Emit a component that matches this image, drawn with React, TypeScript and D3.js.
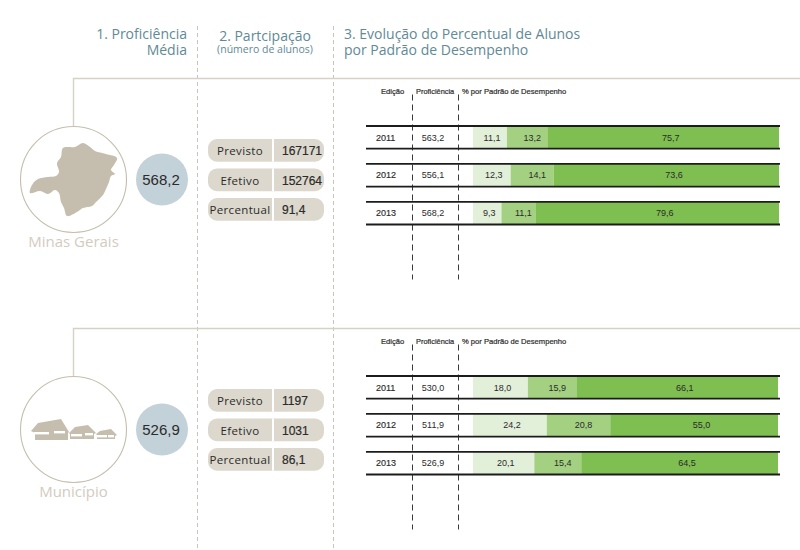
import * as d3 from 'd3';

const editions = ['2011', '2012', '2013'];
const levelColors = ['#e2efd9', '#a4d082', '#7fbe50'];

const stateProficiency = ['563,2', '556,1', '568,2'];
const stateLow = [11.1, 12.3, 9.3];
const stateMid = [13.2, 14.1, 11.1];
const stateHigh = [75.7, 73.6, 79.6];
const stateParticipation = ['167171', '152764', '91,4'];

const cityProficiency = ['530,0', '511,9', '526,9'];
const cityLow = [18.0, 24.2, 20.1];
const cityMid = [15.9, 20.8, 15.4];
const cityHigh = [66.1, 55.0, 64.5];
const cityParticipation = ['1197', '1031', '86,1'];

const participationLabels = ['Previsto', 'Efetivo', 'Percentual'];

// icon outlines
const mapOutline: [number, number][] = [
  [83, 143], [90, 147], [95, 151], [106, 154], [117, 158], [114, 165], [111, 170], [115, 174], [111, 176],
  [109, 182], [106, 189], [103, 195], [96, 202], [92, 206], [83, 208], [77, 212], [67, 216], [64, 208],
  [61, 202], [59, 193], [55, 190], [48, 194], [40, 191], [30, 193], [32, 185], [38, 179], [48, 177],
  [56, 176], [59, 172], [57, 163], [61, 157], [63, 148], [75, 147],
];
const houses: [number, number][][] = [
  [[31, 431], [38, 423], [61, 419], [69, 432], [68, 433], [68, 440], [35, 440], [35, 433]],
  [[69, 433], [75, 427], [88, 425], [96, 433], [94, 434], [94, 439], [70, 439], [70, 434]],
  [[96, 434], [100, 431], [111, 429], [117, 435], [115, 436], [115, 439], [97, 439], [97, 435]],
];
const houseWindows: [number, number, number][] = [
  [34, 432, 15], [54, 431, 11], [71, 434, 11], [85, 433, 8], [97, 435, 10], [108, 435, 6],
];

const TITLE = '#5f8a96';
const BEIGE = '#c5beae';
const NAME = '#d2ccbf';
const PILL = '#dcd8cd';
const BUBBLE = '#c3d1d8';
const INK = '#2b2b2b';
const SANS = "'Open Sans', sans-serif";
const ARIAL = "'Liberation Sans', Arial, sans-serif";

const outline = d3.line().curve(d3.curveCatmullRomClosed.alpha(0.5));
const polygon = d3.line().curve(d3.curveLinearClosed);

const labelShift = [2, 5, 7.5];

interface PanelProps {
  top: number;
  barEnd: number;
  name: string;
  bubble: string;
  proficiency: string[];
  low: number[];
  mid: number[];
  high: number[];
  participation: string[];
  icon: React.ReactNode;
}

const Panel = ({ top, barEnd, name, bubble, proficiency, low, mid, high, participation, icon }: PanelProps) => {
  const y = d3.scaleBand<string>().domain(editions).range([top + 47.5, top + 47.5 + 98.5]).paddingInner(15.3 / 38);
  const x = d3.scaleLinear().domain([0, 100]).range([473, barEnd]);
  const stack = d3.stack<number>().keys(['0', '1', '2']).value((i, k) => [low, mid, high][+k][i]);
  const series = stack([0, 1, 2]);
  const cy = top + 101;
  const pillY = d3.scalePoint<string>().domain(participationLabels).range([top + 60.5, top + 119.5]);

  return (
    <g>
      <path d={`M73.5,${cy - 53}V${top}H800`} fill="none" stroke="#d6d1c5" strokeWidth={1.4} />
      <circle cx={73.5} cy={cy} r={53} fill="#fff" stroke={BEIGE} strokeWidth={1.1} />
      {icon}
      <text x={73.5} y={cy + 67.5} textAnchor="middle" fontFamily={SANS} fontSize={15} fill={NAME}>{name}</text>
      <circle cx={162} cy={cy} r={26} fill={BUBBLE} />
      <text x={161} y={cy + 5} textAnchor="middle" fontFamily={ARIAL} fontSize={15} fill={INK}>{bubble}</text>

      {participationLabels.map((label, i) => {
        const py = pillY(label)!;
        return (
          <g key={label}>
            <rect x={208} y={py} width={116} height={22.7} rx={9} fill={PILL} />
            <rect x={272} y={py} width={2} height={22.7} fill="#fff" />
            <text x={240} y={py + 16} textAnchor="middle" fontFamily={SANS} fontSize={11.5} letterSpacing={0.35} fill={INK}>{label}</text>
            <text x={282} y={py + 16} fontFamily={ARIAL} fontSize={12} stroke={INK} strokeWidth={0.2} fill={INK}>{participation[i]}</text>
          </g>
        );
      })}

      <text x={381} y={top + 15.5} fontFamily={ARIAL} fontSize={7.6} stroke={INK} strokeWidth={0.2} fill={INK}>Edição</text>
      <text x={416} y={top + 15.5} fontFamily={ARIAL} fontSize={7.4} stroke={INK} strokeWidth={0.2} fill={INK}>Proficiência</text>
      <text x={462} y={top + 15.5} fontFamily={ARIAL} fontSize={7.6} stroke={INK} strokeWidth={0.2} fill={INK}>% por Padrão de Desempenho</text>
      {[412.5, 458.5].map((lx) => (
        <line key={lx} x1={lx} x2={lx} y1={top + 16} y2={top + 201} stroke="#222" strokeWidth={0.9} strokeDasharray="6 4" />
      ))}

      {editions.map((ed, i) => {
        const by = y(ed)!;
        const h = y.bandwidth();
        return (
          <g key={ed}>
            {series.map((s, k) => (
              <rect key={k} x={x(s[i][0])} y={by} width={x(s[i][1]) - x(s[i][0])} height={h} fill={levelColors[k]} />
            ))}
            <line x1={366} x2={780} y1={by} y2={by} stroke="#1c1c1c" strokeWidth={1.8} />
            <line x1={366} x2={780} y1={by + h} y2={by + h} stroke="#1c1c1c" strokeWidth={1.8} />
            <text x={376} y={by + 14.5} fontFamily={ARIAL} fontSize={9} stroke={INK} strokeWidth={0.15} fill={INK}>{ed}</text>
            <text x={433} y={by + 14.5} textAnchor="middle" fontFamily={ARIAL} fontSize={9} fill={INK}>{proficiency[i]}</text>
            {series.map((s, k) => (
              <text key={k} x={(x(s[i][0]) + x(s[i][1])) / 2 + labelShift[k]} y={by + 14.5} textAnchor="middle" fontFamily={ARIAL} fontSize={9} fill={INK}>
                {s[i][1] - s[i][0] === 0 ? '' : [low, mid, high][k][i].toFixed(1).replace('.', ',')}
              </text>
            ))}
          </g>
        );
      })}
    </g>
  );
};

export default function App() {
  return (
    <svg width={800} height={550} style={{ position: 'fixed', left: 0, top: 0, display: 'block' }} role="img" aria-label="Proficiência e participação">
      <rect width={800} height={550} fill="#fff" />
      {[197.5, 333.5].map((lx) => (
        <line key={lx} x1={lx} x2={lx} y1={26} y2={550} stroke="#c9c5ba" strokeWidth={1} strokeDasharray="4 3" />
      ))}

      <text x={187} y={39} textAnchor="end" fontFamily={SANS} fontSize={14} fill={TITLE}>1. Proficiência</text>
      <text x={187} y={55} textAnchor="end" fontFamily={SANS} fontSize={14} fill={TITLE}>Média</text>
      <text x={265} y={41} textAnchor="middle" fontFamily={SANS} fontSize={14} fill={TITLE}>2. Partcipação</text>
      <text x={265} y={53} textAnchor="middle" fontFamily={SANS} fontSize={10.5} fill={TITLE}>(número de alunos)</text>
      <text x={344} y={39} fontFamily={SANS} fontSize={14} fill={TITLE}>3. Evolução do Percentual de Alunos</text>
      <text x={344} y={55} fontFamily={SANS} fontSize={14} fill={TITLE}>por Padrão de Desempenho</text>

      <Panel
        top={78.5}
        barEnd={779}
        name="Minas Gerais"
        bubble="568,2"
        proficiency={stateProficiency}
        low={stateLow}
        mid={stateMid}
        high={stateHigh}
        participation={stateParticipation}
        icon={<path d={outline(mapOutline)!} fill={BEIGE} />}
      />
      <Panel
        top={328.5}
        barEnd={778}
        name="Município"
        bubble="526,9"
        proficiency={cityProficiency}
        low={cityLow}
        mid={cityMid}
        high={cityHigh}
        participation={cityParticipation}
        icon={
          <g>
            {houses.map((h, i) => <path key={i} d={polygon(h)!} fill={BEIGE} />)}
            {houseWindows.map(([wx, wy, ww], i) => <rect key={i} x={wx} y={wy} width={ww} height={2.4} fill="#fff" />)}
          </g>
        }
      />
    </svg>
  );
}
